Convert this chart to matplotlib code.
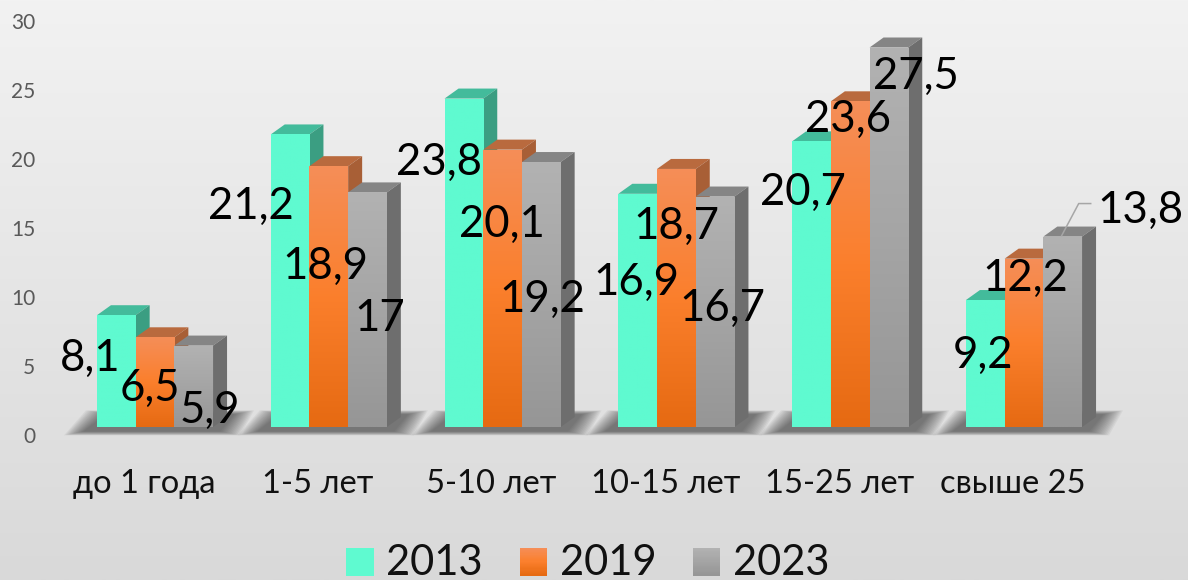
import numpy as np
import matplotlib
matplotlib.use('Agg')
import matplotlib.pyplot as plt
import matplotlib.colors as mcolors
from matplotlib.legend_handler import HandlerBase
from matplotlib.patches import Patch, Rectangle
from matplotlib.transforms import ScaledTranslation

plt.rcParams['font.family'] = ['Lato', 'DejaVu Sans']

categories = ['до 1 года', '1-5 лет', '5-10 лет', '10-15 лет', '15-25 лет', 'свыше 25']
years = ['2013', '2019', '2023']
v2013 = [8.1, 21.2, 23.8, 16.9, 20.7, 9.2]
v2019 = [6.5, 18.9, 20.1, 18.7, 23.6, 12.2]
v2023 = [5.9, 17, 19.2, 16.7, 27.5, 13.8]
series = [v2013, v2019, v2023]
yticks = [0, 5, 10, 15, 20, 25, 30]

# label offset from the top centre of the bar front, px right / px down
label_off = [
    [(-26, 39), (-39, 68), (-25, 60), (-1, 85), (-9, 47), (-2, 51)],
    [(-5, 47), (-3, 96), (-1, 71), (0, 53), (-2, 14), (1, 16)],
    [(16, 61), (12, 122), (1, 133), (7, 108), (27, 25), (78, -30)],
]

W, H = 1188, 580
X0, XSTEP = 155, 173.8     # px of first group centre, px per category
Y0, YSTEP = 427, 13.8      # px of value 0, px per unit
BAR = 38.7 / XSTEP
DX, DY = 14 / XSTEP, 10 / YSTEP

fronts = [
    mcolors.LinearSegmentedColormap.from_list('teal', ['#5ffad0', '#5ffad0']),
    mcolors.LinearSegmentedColormap.from_list('orange', ['#f58e58', '#fb7f2c', '#e66a12']),
    mcolors.LinearSegmentedColormap.from_list('gray', ['#b2b2b2', '#a5a5a5', '#969696']),
]
tops = ['#43bb9b', '#b96a3e', '#858585']
sides = ['#3b9e82', '#a85f36', '#6e6e6e']
legend_cols = [['#5ffad0', '#5ffad0'], ['#f58e58', '#fb7f2c', '#e66a12'], ['#b2b2b2', '#969696']]


class GradientHandle(HandlerBase):
    def create_artists(self, legend, orig, xd, yd, width, height, fontsize, trans):
        cmap = mcolors.LinearSegmentedColormap.from_list('h', orig.cols)
        n = 24
        out = []
        for k in range(n):
            r = Rectangle((xd, yd + height * (1 - (k + 1) / n)),
                          width, height / n + 0.2, fc=cmap(k / (n - 1)), ec='none', transform=trans)
            out.append(r)
        return out


fig = plt.figure(figsize=(W / 100, H / 100), dpi=100)

bg = fig.add_axes([0, 0, 1, 1], zorder=-1)
bg.imshow(np.linspace(0, 1, 256).reshape(-1, 1), aspect='auto',
          cmap=mcolors.LinearSegmentedColormap.from_list('bg', ['#f2f2f2', '#d9d9d9']))
bg.axis('off')

left, right = 45, 1180
top = Y0 - 30 * YSTEP
ax = fig.add_axes([left / W, 1 - Y0 / H, (right - left) / W, (Y0 - top) / H])
ax.patch.set_alpha(0)
ax.set_xlim((left - X0) / XSTEP, (right - X0) / XSTEP)
ax.set_ylim(0, 30)
for s in ax.spines.values():
    s.set_visible(False)

x = np.arange(len(categories))
z = 5
for i in x:
    # floor shadow
    xl = i - 1.5 * BAR
    xr = i + 1.5 * BAR
    for k in range(14):
        g = (14 - k) * 1.5 / XSTEP
        gy = (14 - k) * 0.3 / YSTEP
        ax.fill([xl - 12 / XSTEP - g, xl + 10 / XSTEP - g, xr + 20 / XSTEP + g, xr + 6 / XSTEP + g],
                [-0.3 - gy, 0.9 + gy, 0.9 + gy, -0.3 - gy],
                color='#303030', alpha=0.06, lw=0, clip_on=False, zorder=2)
    for j, vals in enumerate(series):
        v = vals[i]
        bx = i + (j - 1) * BAR
        l, r = bx - BAR / 2, bx + BAR / 2
        ax.fill([l, l + DX, r + DX, r], [v, v + DY, v + DY, v], color=tops[j], lw=0, zorder=z)
        ax.fill([r, r + DX, r + DX, r], [0, DY, v + DY, v], color=sides[j], lw=0, zorder=z)
        bar = ax.bar(bx, v, BAR, color=fronts[j](0.5), lw=0, zorder=z + 1)[0]
        im = ax.imshow(np.linspace(0, 1, 128).reshape(-1, 1), aspect='auto', cmap=fronts[j],
                       extent=(l, r, 0, v), zorder=z + 1)
        im.set_clip_path(bar)
        z += 2

ax.set_xlim((left - X0) / XSTEP, (right - X0) / XSTEP)
ax.set_ylim(0, 30)

for j, vals in enumerate(series):
    for i, v in enumerate(vals):
        dx, dy = label_off[j][i]
        ax.annotate(str(v).replace('.', ','), xy=(i + (j - 1) * BAR, v),
                    xytext=(dx * 0.72, -(dy + 4) * 0.72), textcoords='offset points',
                    ha='center', va='center', fontsize=31.5, color='black', zorder=200)

# leader line of the last label
lx = 5 + BAR
lv = v2023[5]
ax.plot([lx - 1 / XSTEP, lx + 16 / XSTEP, lx + 28 / XSTEP],
        [lv + 1 / YSTEP, lv + 33 / YSTEP, lv + 33 / YSTEP],
        color='#a6a6a6', lw=1.1, zorder=150, clip_on=False)

ax.set_yticks(yticks)
ax.set_yticklabels(yticks, color='#595959', fontsize=15)
ax.set_xticks(x)
ax.set_xticklabels(categories, color='#111111', fontsize=23.5)
ax.tick_params(axis='both', length=0)
ax.tick_params(axis='y', pad=7)
ax.tick_params(axis='x', pad=30.5)
for t in ax.get_yticklabels():
    t.set_transform(t.get_transform() + ScaledTranslation(0, -8 / 100, fig.dpi_scale_trans))
for t in ax.get_xticklabels():
    t.set_transform(t.get_transform() + ScaledTranslation(-11 / 100, 0, fig.dpi_scale_trans))

handles = []
for y, cols in zip(years, legend_cols):
    p = Patch(label=y)
    p.cols = cols
    handles.append(p)
fig.legend(handles=handles, loc='center', bbox_to_anchor=(588 / W, 1 - 563 / H), ncol=3,
           frameon=False, fontsize=30, handler_map={Patch: GradientHandle()},
           handlelength=0.65, handleheight=0.65, handletextpad=0.31, columnspacing=0.88,
           labelcolor='#111111')

fig.savefig('out.png', dpi=100)
